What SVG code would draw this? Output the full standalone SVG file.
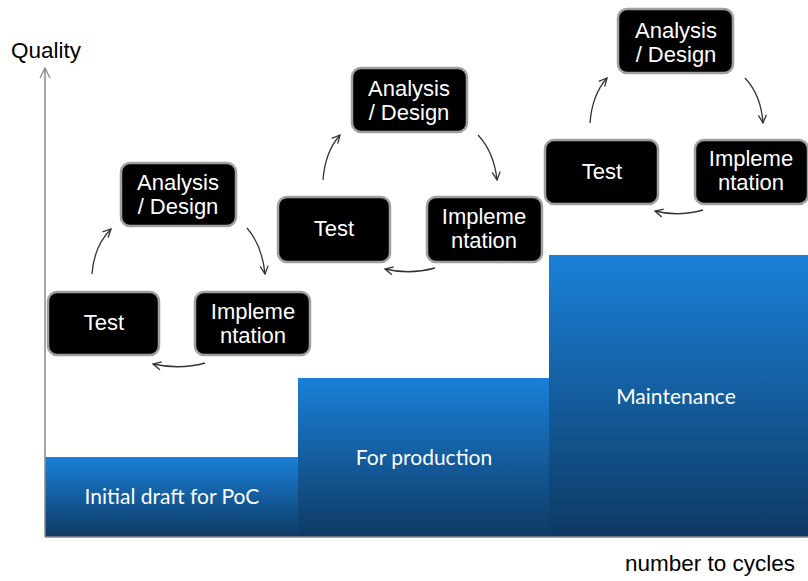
<svg xmlns="http://www.w3.org/2000/svg" width="808" height="581" viewBox="0 0 808 581">
<defs>
<linearGradient id="bar" x1="0" y1="0" x2="0" y2="1">
<stop offset="0" stop-color="#1a80d8"/>
<stop offset="1" stop-color="#0e3a64"/>
</linearGradient>
<marker id="ah" viewBox="0 0 10 10" refX="9" refY="5" markerWidth="10" markerHeight="10" markerUnits="userSpaceOnUse" orient="auto">
<polyline points="1,1 9,5 1,9" fill="none" stroke="#333" stroke-width="1.3"/>
</marker>
<marker id="axh" viewBox="0 0 12 12" refX="11" refY="6" markerWidth="12" markerHeight="12" markerUnits="userSpaceOnUse" orient="auto">
<polyline points="1,1 11,6 1,11" fill="none" stroke="#888" stroke-width="1.3"/>
</marker>
</defs>
<style>
.box{fill:#000;stroke:#a0a0a0;stroke-width:2.5}
.bt{fill:#fff;font-family:"Liberation Sans",Arial,sans-serif;font-size:22px;text-anchor:middle}
.lbl{fill:#000;font-family:"Liberation Sans",Arial,sans-serif;font-size:22.5px}
.bar{fill:url(#bar)}
.bart{fill:#fff;font-family:Lato,"Open Sans",sans-serif;font-size:21px;text-anchor:middle}
.con{fill:none;stroke:#333;stroke-width:1.3;marker-end:url(#ah)}
</style>
<rect width="808" height="581" fill="#fff"/>
<g id="bars">
<rect class="bar" x="45" y="457" width="253" height="80"/>
<rect class="bar" x="298" y="378" width="251" height="159"/>
<rect class="bar" x="549" y="255" width="259" height="282"/>
<text class="bart" x="172" y="504">Initial draft for PoC</text>
<text class="bart" x="424" y="465">For production</text>
<text class="bart" x="676" y="404">Maintenance</text>
</g>
<g id="axes">
<line x1="45" y1="537" x2="45" y2="68" stroke="#888" stroke-width="1.5" marker-end="url(#axh)"/>
<line x1="45" y1="537" x2="808" y2="537" stroke="#888" stroke-width="1.5"/>
<text class="lbl" x="11" y="58">Quality</text>
<text class="lbl" x="625" y="571">number to cycles</text>
</g>
<g id="c1-analysis"><rect class="box" x="121" y="163" width="115" height="63" rx="9"/><text class="bt" x="178" y="190">Analysis</text><text class="bt" x="178" y="214">/ Design</text></g>
<g id="c1-test"><rect class="box" x="48" y="292" width="111" height="63" rx="9"/><text class="bt" x="104" y="330">Test</text></g>
<g id="c1-impl"><rect class="box" x="195" y="292" width="115" height="63" rx="9"/><text class="bt" x="253" y="319">Impleme</text><text class="bt" x="253" y="343">ntation</text></g>
<g id="c2-analysis"><rect class="box" x="352" y="68" width="115" height="64" rx="9"/><text class="bt" x="409" y="96">Analysis</text><text class="bt" x="409" y="120">/ Design</text></g>
<g id="c2-test"><rect class="box" x="278" y="197" width="112" height="65" rx="9"/><text class="bt" x="334" y="236">Test</text></g>
<g id="c2-impl"><rect class="box" x="427" y="197" width="115" height="65" rx="9"/><text class="bt" x="484" y="224">Impleme</text><text class="bt" x="484" y="248">ntation</text></g>
<g id="c3-analysis"><rect class="box" x="618" y="9" width="115" height="64" rx="9"/><text class="bt" x="676" y="38">Analysis</text><text class="bt" x="676" y="62">/ Design</text></g>
<g id="c3-test"><rect class="box" x="545" y="140" width="113" height="64" rx="9"/><text class="bt" x="602" y="179">Test</text></g>
<g id="c3-impl"><rect class="box" x="695" y="140" width="113" height="64" rx="9"/><text class="bt" x="751" y="166">Impleme</text><text class="bt" x="751" y="190">ntation</text></g>
<g id="connectors">
<path class="con" d="M92,274 Q94,246 111,229"/>
<path class="con" d="M247,228 Q262,245 265,274"/>
<path class="con" d="M205,363 Q180,370 153,364"/>
<path class="con" d="M323,180 Q325,152 340,135"/>
<path class="con" d="M478,135 Q494,152 497,180"/>
<path class="con" d="M435,268 Q410,275 385,269"/>
<path class="con" d="M590,123 Q592,95 607,78"/>
<path class="con" d="M745,78 Q761,95 763,123"/>
<path class="con" d="M703,210 Q678,217 655,211"/>
</g>
</svg>
